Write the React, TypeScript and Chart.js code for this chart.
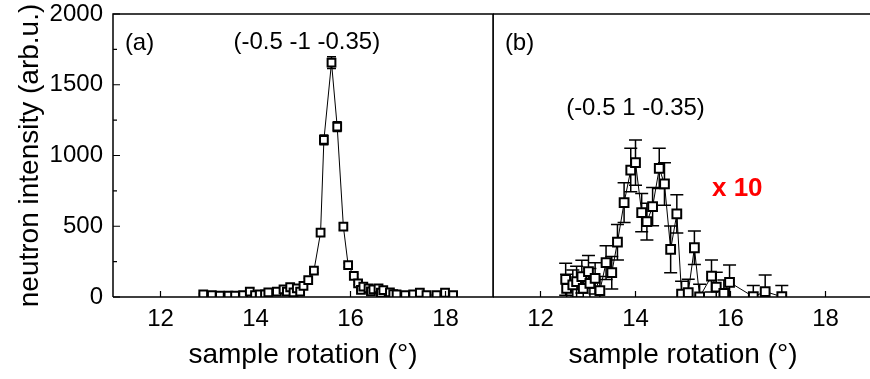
import React, { useEffect, useRef } from 'react';
import { Chart, registerables } from 'chart.js';

Chart.register(...registerables);

// Panel (a): scan through (-0.5 -1 -0.35)
const angleA = [
  12.9, 13.08, 13.25, 13.43, 13.57, 13.74, 13.88, 13.99, 14.09, 14.2, 14.27, 14.45,
  14.59, 14.66, 14.73, 14.8, 14.87, 14.94, 15.01, 15.11, 15.23, 15.37, 15.44, 15.6,
  15.72, 15.85, 15.95, 16.07, 16.16, 16.22, 16.27, 16.38, 16.43, 16.48, 16.59, 16.64,
  16.69, 16.83, 16.9, 16.97, 17.15, 17.32, 17.46, 17.6, 17.81, 17.99, 18.16,
];
const intensityA = [
  19, 14, 9, 9, 9, 14, 38, 14, 19, 19, 33, 38,
  54, 38, 69, 33, 61, 38, 78, 120, 186, 455, 1110, 1656,
  1204, 497, 226, 150, 97, 50, 73, 61, 40, 54, 61, 30,
  49, 33, 20, 19, 14, 19, 30, 14, 14, 30, 14,
];
const errorA = [
  5, 4, 3, 3, 3, 4, 7, 4, 5, 5, 6, 7,
  8, 7, 9, 6, 8, 7, 9, 12, 15, 22, 34, 41,
  35, 23, 15, 12, 10, 7, 9, 8, 7, 8, 8, 6,
  7, 6, 5, 5, 4, 5, 6, 4, 4, 6, 4,
];

// Panel (b): scan through (-0.5 1 -0.35), counts shown multiplied by 10
const angleB = [
  12.53, 12.55, 12.68, 12.76, 12.87, 12.9, 13.01, 13.04, 13.15, 13.25, 13.38, 13.5,
  13.62, 13.76, 13.9, 14.0, 14.13, 14.24, 14.36, 14.5, 14.61, 14.74, 14.87, 14.97,
  15.11, 15.24, 15.35, 15.6, 15.7, 15.86, 15.98, 16.48, 16.73, 17.08,
];
const intensityB = [
  12.5, 6.1, 8.5, 10.8, 14.4, 6.1, 17.9, 9.7, 13.2, 4.5, 24.3, 17.2,
  38.7, 66.7, 89.7, 94.9, 59.6, 53.2, 63.8, 90.9, 79.9, 33.7, 58.7, 2.1,
  3.0, 34.8, 0, 14.8, 7.0, 2.6, 10.4, 0.2, 3.8, 0.2,
];
const errorB = [
  11.3, 10.0, 10.5, 11.0, 11.5, 10.0, 11.5, 10.5, 11.0, 10.0, 12.0, 11.5,
  12.5, 14.0, 15.4, 16.0, 13.5, 13.0, 13.5, 14.2, 15.0, 16.5, 13.5, 9.0,
  9.5, 11.8, 9.0, 11.3, 10.5, 9.5, 12.2, 8.0, 11.7, 8.0,
];
const scaleB = 10;

const xRange = [11, 19];
const yRange = [0, 2000];
const xTicks = [12, 14, 16, 18];
const yTicks = [0, 500, 1000, 1500, 2000];
const yMinorTicks = [250, 750, 1250, 1750];

const FAMILY = "'Liberation Sans', Arial, Helvetica, sans-serif";

type Note = {
  text: string;
  x: number;
  y: number;
  align: CanvasTextAlign;
  color?: string;
  bold?: boolean;
  size: number;
};

function decor(err: number[], capHalf: number, notes: Note[], leftTicks: boolean) {
  return {
    id: 'decor',
    beforeDatasetsDraw(chart: any) {
      const { ctx, chartArea: a, scales } = chart;
      const xs = scales.x;
      const ys = scales.y;
      const pts = chart.data.datasets[0].data as { x: number; y: number }[];
      ctx.save();
      ctx.beginPath();
      ctx.rect(a.left, a.top, a.right - a.left, a.bottom - a.top);
      ctx.clip();
      ctx.strokeStyle = '#000';
      ctx.lineWidth = 1.5;
      pts.forEach((p, i) => {
        const px = xs.getPixelForValue(p.x);
        const y1 = ys.getPixelForValue(p.y + err[i]);
        const y2 = ys.getPixelForValue(p.y - err[i]);
        ctx.beginPath();
        ctx.moveTo(px, y1);
        ctx.lineTo(px, y2);
        ctx.moveTo(px - capHalf, y1);
        ctx.lineTo(px + capHalf, y1);
        ctx.moveTo(px - capHalf, y2);
        ctx.lineTo(px + capHalf, y2);
        ctx.stroke();
      });
      ctx.restore();
    },
    afterDraw(chart: any) {
      const { ctx, chartArea: a, scales } = chart;
      const xs = scales.x;
      const ys = scales.y;
      ctx.save();
      ctx.strokeStyle = '#000';
      ctx.lineWidth = 1.5;
      // frame
      ctx.beginPath();
      ctx.moveTo(a.left, a.bottom);
      ctx.lineTo(a.left, a.top);
      ctx.lineTo(a.right, a.top);
      ctx.lineTo(a.right, a.bottom);
      ctx.lineTo(a.left, a.bottom);
      ctx.stroke();
      // inward ticks
      ctx.lineWidth = 1.2;
      ctx.beginPath();
      xTicks.forEach((v) => {
        const px = xs.getPixelForValue(v);
        ctx.moveTo(px, a.bottom);
        ctx.lineTo(px, a.bottom - 6);
      });
      if (leftTicks) {
        yTicks.forEach((v) => {
          const py = ys.getPixelForValue(v);
          ctx.moveTo(a.left, py);
          ctx.lineTo(a.left + 7, py);
        });
        yMinorTicks.forEach((v) => {
          const py = ys.getPixelForValue(v);
          ctx.moveTo(a.left, py);
          ctx.lineTo(a.left + 4, py);
        });
      }
      ctx.stroke();
      // labels
      notes.forEach((n) => {
        ctx.font = `${n.bold ? 'bold ' : ''}${n.size}px ${FAMILY}`;
        ctx.fillStyle = n.color || '#000';
        ctx.textAlign = n.align;
        ctx.textBaseline = 'middle';
        ctx.fillText(n.text, xs.getPixelForValue(n.x), ys.getPixelForValue(n.y));
      });
      ctx.restore();
    },
  };
}

function makeChart(
  canvas: HTMLCanvasElement,
  xs: number[],
  ys: number[],
  err: number[],
  notes: Note[],
  isFirst: boolean,
) {
  const tickFont = { family: FAMILY, size: 24 };
  const titleFont = { family: FAMILY, size: 28 };
  return new Chart(canvas, {
    type: 'line',
    data: {
      datasets: [
        {
          data: xs.map((x, i) => ({ x, y: ys[i] })),
          borderColor: '#000',
          borderWidth: 1,
          pointStyle: 'rect',
          pointRadius: isFirst ? 5.5 : 6.2,
          pointBorderWidth: 2,
          pointBackgroundColor: '#fff',
          pointBorderColor: '#000',
          fill: false,
          tension: 0,
          clip: 0,
        } as any,
      ],
    },
    options: {
      responsive: false,
      animation: false,
      devicePixelRatio: 1,
      events: [],
      layout: {
        autoPadding: false,
        padding: { top: 14, right: isFirst ? 1 : 0, left: 0, bottom: 0 },
      },
      plugins: { legend: { display: false }, tooltip: { enabled: false } },
      scales: {
        x: {
          type: 'linear',
          min: xRange[0],
          max: xRange[1],
          afterBuildTicks: (s: any) => {
            s.ticks = xTicks.map((value) => ({ value }));
          },
          afterFit: (s: any) => {
            s.height = 82;
            s.paddingLeft = 0;
            s.paddingRight = 0;
          },
          grid: { display: false, drawTicks: false },
          border: { display: false },
          ticks: {
            font: tickFont,
            color: '#000',
            padding: 8,
            maxRotation: 0,
            autoSkip: false,
            callback: (v: any) => String(v),
          },
          title: {
            display: true,
            text: 'sample rotation (°)',
            font: titleFont,
            color: '#000',
            padding: { top: 0, bottom: 7 },
          },
        },
        y: {
          type: 'linear',
          display: isFirst,
          min: yRange[0],
          max: yRange[1],
          afterBuildTicks: (s: any) => {
            s.ticks = yTicks.map((value) => ({ value }));
          },
          afterFit: (s: any) => {
            s.width = isFirst ? 113 : 0;
            s.paddingTop = 0;
            s.paddingBottom = 0;
          },
          grid: { display: false, drawTicks: false },
          border: { display: false },
          ticks: { font: tickFont, color: '#000', padding: 10, callback: (v: any) => String(v) },
          title: {
            display: true,
            text: 'neutron intensity (arb.u.)',
            font: titleFont,
            color: '#000',
            padding: { top: 13, bottom: 0 },
          },
        },
      },
    },
    plugins: [decor(err, isFirst ? 4.5 : 6.5, notes, isFirst)],
  } as any);
}

export default function App() {
  const refA = useRef<HTMLCanvasElement>(null);
  const refB = useRef<HTMLCanvasElement>(null);

  useEffect(() => {
    const notesA: Note[] = [
      { text: '(a)', x: 11.25, y: 1790, align: 'left', size: 24 },
      { text: '(-0.5 -1 -0.35)', x: 15.08, y: 1800, align: 'center', size: 24 },
    ];
    const notesB: Note[] = [
      { text: '(b)', x: 11.25, y: 1790, align: 'left', size: 24 },
      { text: '(-0.5 1 -0.35)', x: 14.0, y: 1336, align: 'center', size: 24 },
      { text: 'x 10', x: 15.61, y: 763, align: 'left', size: 26, bold: true, color: '#ff0000' },
    ];
    const chartA = makeChart(refA.current!, angleA, intensityA, errorA, notesA, true);
    const chartB = makeChart(
      refB.current!,
      angleB,
      intensityB.map((v) => v * scaleB),
      errorB.map((e) => e * scaleB),
      notesB,
      false,
    );
    return () => {
      chartA.destroy();
      chartB.destroy();
    };
  }, []);

  return (
    <div
      style={{
        position: 'fixed',
        left: 0,
        top: 0,
        width: 870,
        height: 379,
        overflow: 'hidden',
        background: '#fff',
      }}
    >
      <canvas
        ref={refA}
        width={494}
        height={379}
        style={{ position: 'absolute', left: 0, top: 0, display: 'block' }}
      />
      <canvas
        ref={refB}
        width={380}
        height={379}
        style={{ position: 'absolute', left: 493, top: 0, display: 'block' }}
      />
    </div>
  );
}
